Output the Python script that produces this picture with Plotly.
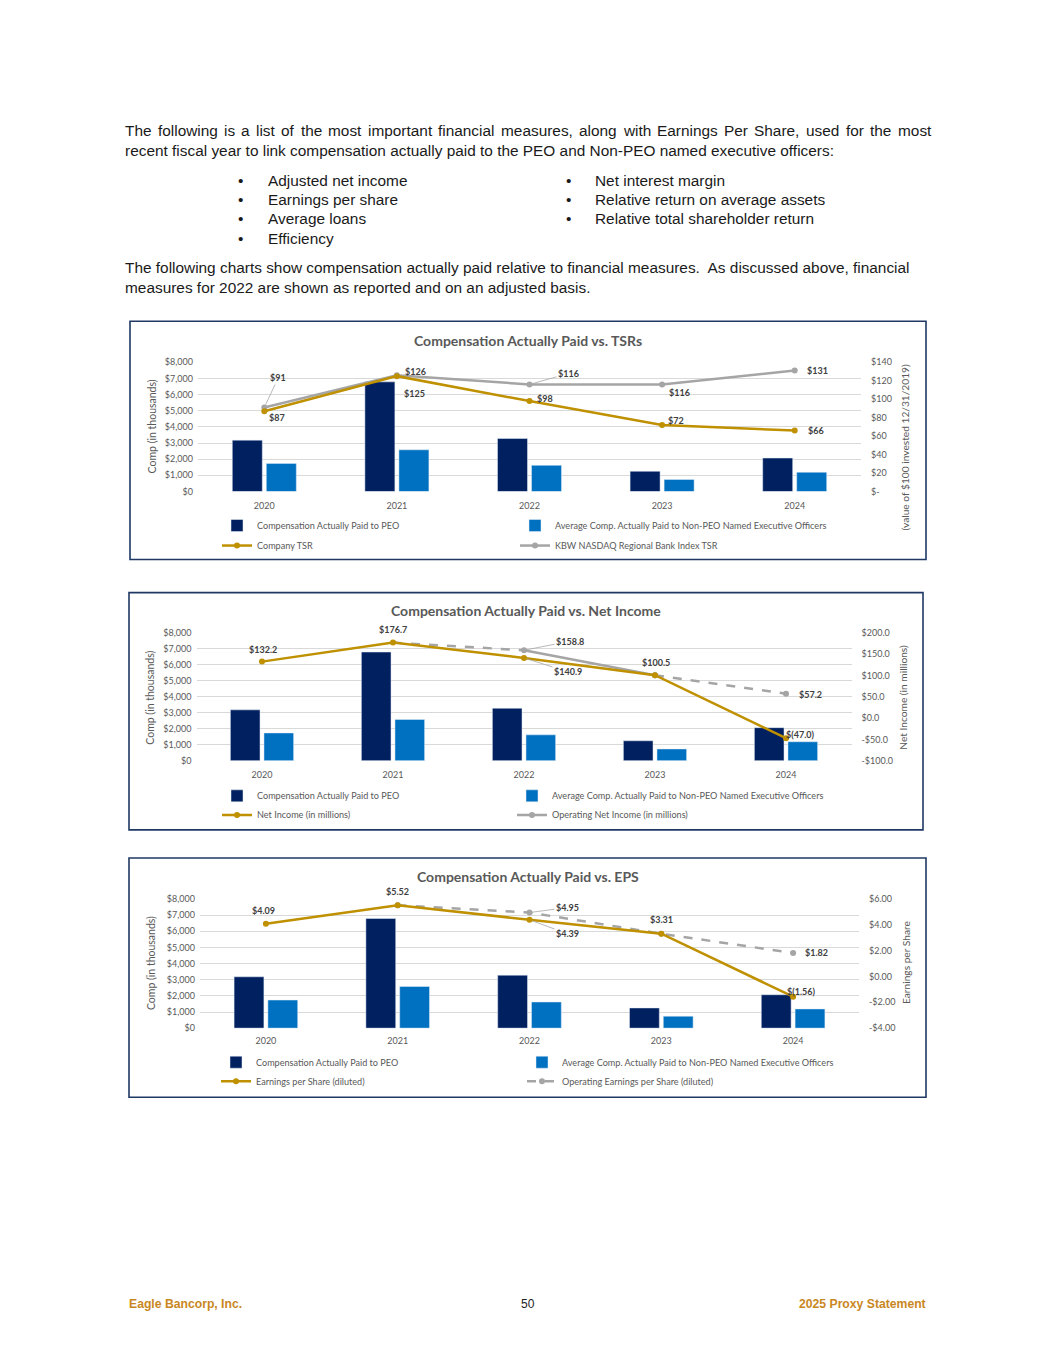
import plotly.graph_objects as go

PAGE_W, PAGE_H = 1055, 1365
OFF = 8                      # default body margin of the html page
W, H = PAGE_W - 2 * OFF, PAGE_H - 2 * OFF
VS, VO = 0.9906, 6.2         # measured vertical scale / offset of the captured page
def X(px): return (px - OFF) / W
def Y(py): return 1 - ((py - VO) / VS - OFF) / H

# ---------------- data ----------------
years = ["2020", "2021", "2022", "2023", "2024"]
cap_peo = [3180, 6790, 3280, 1250, 2070]          # $ thousands
cap_neo = [1740, 2580, 1620, 740, 1190]           # $ thousands
company_tsr = [87, 125, 98, 72, 66]
kbw_tsr = [91, 126, 116, 116, 131]
net_income = [132.2, 176.7, 140.9, 100.5, -47.0]
op_net_income = [None, 176.7, 158.8, 100.5, 57.2]
eps = [4.09, 5.52, 4.39, 3.31, -1.56]
op_eps = [None, 5.52, 4.95, 3.31, 1.82]

comp_ticks = [0, 1000, 2000, 3000, 4000, 5000, 6000, 7000, 8000]
comp_ticktext = ["$0", "$1,000", "$2,000", "$3,000", "$4,000", "$5,000", "$6,000", "$7,000", "$8,000"]
tsr_ticks = [0, 20, 40, 60, 80, 100, 120, 140]
tsr_ticktext = ["$-", "$20", "$40", "$60", "$80", "$100", "$120", "$140"]
ni_ticks = [-100, -50, 0, 50, 100, 150, 200]
ni_ticktext = ["-$100.0", "-$50.0", "$0.0", "$50.0", "$100.0", "$150.0", "$200.0"]
eps_ticks = [-4, -2, 0, 2, 4, 6]
eps_ticktext = ["-$4.00", "-$2.00", "$0.00", "$2.00", "$4.00", "$6.00"]

def money(v, d):
    if v < 0:
        return "$(" + f"{-v:.{d}f}" + ")"
    return "$" + f"{v:.{d}f}"

# ---------------- style ----------------
NAVY = "#002060"
BLUE = "#0070C0"
GOLD = "#BF9000"
GREY = "#A5A5A5"
TXT = "#595959"
CF = "Lato, Carlito, Calibri, sans-serif"
PF = "Liberation Sans, Arial, sans-serif"
FRAME = "#1F3864"

fig = go.Figure()

# legend slots: (name, text-start x, row y)
charts = [
    dict(xa="x", ya="y", yr="y2", plot=(198, 861, 362, 491), frame=(130, 321, 926, 559),
         title="Compensation Actually Paid vs. TSRs", tx=528, ty=340, xstand=8,
         legs=[("legend", 257, 525), ("legend2", 555, 525), ("legend3", 257, 545), ("legend4", 555, 545)],
         ltitle=(152, 426), rtitle=(905, 447), rt="(value of $100 invested 12/31/2019)",
         rrange=[0, 140], rticks=tsr_ticks, rtext=tsr_ticktext),
    dict(xa="x2", ya="y3", yr="y4", plot=(196.5, 851.5, 632, 760), frame=(129, 592, 923, 829),
         title="Compensation Actually Paid vs. Net Income", tx=526, ty=610, xstand=7,
         legs=[("legend5", 257, 795), ("legend6", 552, 795), ("legend7", 257, 814), ("legend8", 552, 814)],
         ltitle=(150, 697), rtitle=(903, 697), rt="Net Income (in millions)",
         rrange=[-100, 200], rticks=ni_ticks, rtext=ni_ticktext),
    dict(xa="x3", ya="y5", yr="y6", plot=(200, 859, 898, 1027), frame=(129, 857, 926, 1096),
         title="Compensation Actually Paid vs. EPS", tx=528, ty=876, xstand=6,
         legs=[("legend9", 256, 1061), ("legend10", 562, 1061), ("legend11", 256, 1080), ("legend12", 562, 1080)],
         ltitle=(151, 962), rtitle=(906, 962), rt="Earnings per Share",
         rrange=[-4, 6], rticks=eps_ticks, rtext=eps_ticktext),
]

annotations = []
shapes = []
layout_axes = {}

def axname(a):
    return {"x": "xaxis", "y": "yaxis"}[a] if len(a) == 1 else a.replace("x", "xaxis").replace("y", "yaxis")

def paper_text(text, px, py, font, xanchor="center", yanchor="middle", angle=0):
    annotations.append(dict(text=text, x=X(px), y=Y(py), xref="paper", yref="paper", showarrow=False,
                            xanchor=xanchor, yanchor=yanchor, textangle=angle, font=font))

for c in charts:
    l, r, t, b = c["plot"]
    lg = [s[0] for s in c["legs"]]
    fig.add_trace(go.Bar(x=years, y=cap_peo, name="Compensation Actually Paid to PEO",
                         marker_color=NAVY, xaxis=c["xa"], yaxis=c["ya"], legend=lg[0]))
    fig.add_trace(go.Bar(x=years, y=cap_neo, name="Average Comp. Actually Paid to Non-PEO Named Executive Officers",
                         marker_color=BLUE, xaxis=c["xa"], yaxis=c["ya"], legend=lg[1]))
    layout_axes[axname(c["xa"])] = dict(domain=[X(l), X(r)], anchor=c["ya"], type="category",
                                        range=[-0.5, 4.5], showgrid=False, showline=False, ticks="",
                                        tickfont=dict(family=CF, size=9, color=TXT),
                                        ticklabelstandoff=c["xstand"])
    layout_axes[axname(c["ya"])] = dict(domain=[Y(b), Y(t)], anchor=c["xa"], range=[0, 8000],
                                        tickvals=comp_ticks, ticktext=comp_ticktext, showgrid=True,
                                        gridcolor="#D9D9D9", gridwidth=1, zeroline=False, showline=False,
                                        tickfont=dict(family=CF, size=9, color=TXT), ticklabelstandoff=4)
    layout_axes[axname(c["yr"])] = dict(overlaying=c["ya"], side="right", anchor=c["xa"], range=c["rrange"],
                                        tickvals=c["rticks"], ticktext=c["rtext"], showgrid=False,
                                        zeroline=False, showline=False,
                                        tickfont=dict(family=CF, size=9, color=TXT), ticklabelstandoff=9)
    fx0, fy0, fx1, fy1 = c["frame"]
    shapes.append(dict(type="rect", xref="paper", yref="paper", x0=X(fx0), x1=X(fx1), y0=Y(fy1), y1=Y(fy0),
                       line=dict(color=FRAME, width=1.6), fillcolor="rgba(0,0,0,0)", layer="above"))
    paper_text("<b>" + c["title"] + "</b>", c["tx"], c["ty"], dict(family=CF, size=14, color=TXT))
    paper_text("Comp (in thousands)", c["ltitle"][0], c["ltitle"][1], dict(family=CF, size=10.5, color=TXT), angle=-90)
    paper_text(c["rt"], c["rtitle"][0], c["rtitle"][1], dict(family=CF, size=10.2, color=TXT), angle=-90)
    for ln, lx, ly in c["legs"]:
        layout_axes[ln] = dict(orientation="h", x=X(lx - 40), y=Y(ly), xanchor="left", yanchor="middle",
                               itemwidth=30, font=dict(family=CF, size=9.1, color=TXT),
                               bgcolor="rgba(0,0,0,0)")

mk = dict(size=6)

# ---- chart 1 lines
c1 = charts[0]
l1 = [s[0] for s in c1["legs"]]
fig.add_trace(go.Scatter(x=years, y=kbw_tsr, name="KBW NASDAQ Regional Bank Index TSR", mode="lines+markers",
                         line=dict(color=GREY, width=2.5), marker=dict(color=GREY, **mk),
                         xaxis=c1["xa"], yaxis=c1["yr"], legend=l1[3]))
fig.add_trace(go.Scatter(x=years, y=company_tsr, name="Company TSR", mode="lines+markers",
                         line=dict(color=GOLD, width=2.5), marker=dict(color=GOLD, **mk),
                         xaxis=c1["xa"], yaxis=c1["yr"], legend=l1[2]))

# ---- chart 2 lines
c2 = charts[1]
l2 = [s[0] for s in c2["legs"]]
fig.add_trace(go.Scatter(x=years[2:4], y=op_net_income[2:4], name="Operating Net Income (in millions)",
                         mode="lines+markers", line=dict(color=GREY, width=2.5), marker=dict(color=GREY, **mk),
                         xaxis=c2["xa"], yaxis=c2["yr"], legend=l2[3]))
fig.add_trace(go.Scatter(x=years[1:3], y=op_net_income[1:3], mode="lines", showlegend=False,
                         line=dict(color=GREY, width=2.5, dash="dash"), xaxis=c2["xa"], yaxis=c2["yr"]))
fig.add_trace(go.Scatter(x=years[3:5], y=op_net_income[3:5], mode="lines+markers", showlegend=False,
                         line=dict(color=GREY, width=2.5, dash="dash"), marker=dict(color=GREY, **mk),
                         xaxis=c2["xa"], yaxis=c2["yr"]))
fig.add_trace(go.Scatter(x=years, y=net_income, name="Net Income (in millions)", mode="lines+markers",
                         line=dict(color=GOLD, width=2.5), marker=dict(color=GOLD, **mk),
                         xaxis=c2["xa"], yaxis=c2["yr"], legend=l2[2]))

# ---- chart 3 lines
c3 = charts[2]
l3 = [s[0] for s in c3["legs"]]
fig.add_trace(go.Scatter(x=years, y=op_eps, name="Operating Earnings per Share (diluted)", mode="lines+markers",
                         line=dict(color=GREY, width=2.5, dash="dash"), marker=dict(color=GREY, **mk),
                         xaxis=c3["xa"], yaxis=c3["yr"], legend=l3[3]))
fig.add_trace(go.Scatter(x=years, y=eps, name="Earnings per Share (diluted)", mode="lines+markers",
                         line=dict(color=GOLD, width=2.5), marker=dict(color=GOLD, **mk),
                         xaxis=c3["xa"], yaxis=c3["yr"], legend=l3[2]))

# ---- data labels: (chart, series, decimals, [(index, xshift, yshift, leader-line offset or None)])
label_specs = [
    (c1, company_tsr, 0, [(0, 13, -6, None), (1, 18, -17, None), (2, 15, 3, None), (3, 14, 5, None), (4, 21, 0, None)]),
    (c1, kbw_tsr, 0, [(0, 0, 0, (14, -30)), (1, 19, 4, None), (2, 0, 0, (39, -11)), (3, 17, -8, None), (4, 23, 0, None)]),
    (c2, net_income, 1, [(0, 1, 12, None), (1, 0, 13, None), (2, 0, 0, (44, 14)), (3, 1, 13, None), (4, 14, 4, None)]),
    (c2, op_net_income, 1, [(2, 0, 0, (46, -9)), (4, 24, -1, None)]),
    (c3, eps, 2, [(0, -2, 13, None), (1, 0, 14, None), (2, 0, 0, (38, 14)), (3, 0, 14, None), (4, 8, 5, None)]),
    (c3, op_eps, 2, [(2, 0, 0, (38, -5)), (4, 23, 0, None)]),
]
for c, series, dec, items in label_specs:
    for i, xs, ys, arr in items:
        # category axes take the category's serial number
        a = dict(x=i, y=series[i], xref=c["xa"], yref=c["yr"], text="<b>" + money(series[i], dec) + "</b>",
                 font=dict(family=CF, size=9, color="#404040"))
        if arr is None:
            a.update(showarrow=False, xshift=xs, yshift=ys)
        else:
            a.update(showarrow=True, ax=arr[0], ay=arr[1], arrowhead=0, arrowwidth=0.8,
                     arrowcolor="#A6A6A6", standoff=3)
        annotations.append(a)

# ---------------- page text ----------------
PSIZE = 15.4
PFONT = dict(family=PF, size=PSIZE, color="#1A1A1A")
AW = {' ': 278, 'T': 611, 'h': 556, 'e': 556, 'f': 278, 'o': 556, 'l': 222, 'w': 722, 'i': 222, 'n': 556,
      'g': 556, 's': 500, 'a': 556, 't': 278, 'm': 833, 'p': 556, 'r': 333, 'c': 500, 'u': 556, ',': 278,
      'E': 667, 'P': 667, 'S': 667, 'd': 556, 'b': 556, 'y': 500, 'k': 500, '.': 278, 'A': 667, 'N': 722,
      'O': 778, ':': 278, '-': 333, 'v': 500, 'x': 500, 'j': 222}
def tw(s, size):
    return sum(AW.get(ch, 556) for ch in s) * size / 1000.0

def justified(line, x0, x1, py):
    words = line.split(" ")
    natural = sum(tw(w, PSIZE) for w in words)
    gap = (x1 - x0 - natural) / (len(words) - 1)
    x = x0
    for w in words:
        paper_text(w, x, py, PFONT, xanchor="left")
        x += tw(w, PSIZE) + gap

justified("The following is a list of the most important financial measures, along with Earnings Per Share, used for the most",
          123, 929, 130)
paper_text("recent fiscal year to link compensation actually paid to the PEO and Non-PEO named executive officers:",
           123, 150, PFONT, xanchor="left")
bul_left = ["Adjusted net income", "Earnings per share", "Average loans", "Efficiency"]
bul_right = ["Net interest margin", "Relative return on average assets", "Relative total shareholder return"]
for k, s in enumerate(bul_left):
    paper_text("•", 236, 180 + k * 19.4, PFONT, xanchor="left")
    paper_text(s, 266, 180 + k * 19.4, PFONT, xanchor="left")
for k, s in enumerate(bul_right):
    paper_text("•", 564, 180 + k * 19.4, PFONT, xanchor="left")
    paper_text(s, 593, 180 + k * 19.4, PFONT, xanchor="left")
paper_text("The following charts show compensation actually paid relative to financial measures.  As discussed above, financial",
           123, 267, PFONT, xanchor="left")
paper_text("measures for 2022 are shown as reported and on an adjusted basis.", 123, 287, PFONT, xanchor="left")

FOOT = "#C9871F"
paper_text("<b>Eagle Bancorp, Inc.</b>", 127, 1303, dict(family=PF, size=12.2, color=FOOT), xanchor="left")
paper_text("50", 528, 1303, dict(family=PF, size=12, color="#222222"))
paper_text("<b>2025 Proxy Statement</b>", 928, 1303, dict(family=PF, size=12.2, color=FOOT), xanchor="right")

fig.update_layout(width=W, height=H, margin=dict(l=0, r=0, t=0, b=0), paper_bgcolor="white",
                  plot_bgcolor="white", barmode="group", bargap=0.487, bargroupgap=0.118,
                  annotations=annotations, shapes=shapes, showlegend=True, hovermode=False,
                  **layout_axes)

fig.write_html("out.html")
